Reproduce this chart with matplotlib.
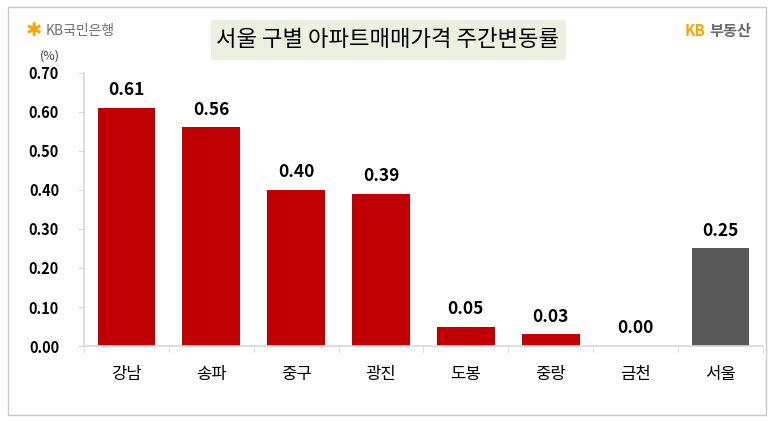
import matplotlib
matplotlib.use("Agg")
import matplotlib.pyplot as plt
from matplotlib.patches import Rectangle

plt.rcParams['font.family'] = ['Noto Sans CJK KR', 'DejaVu Sans']

districts = ['강남', '송파', '중구', '광진', '도봉', '중랑', '금천', '서울']
changes = [0.61, 0.56, 0.40, 0.39, 0.05, 0.03, 0.00, 0.25]
yticks = [0.0, 0.1, 0.2, 0.3, 0.4, 0.5, 0.6, 0.7]

colors = ['#C00000'] * (len(districts) - 1) + ['#595959']

fig = plt.figure(figsize=(7.73, 4.21), dpi=100)
ax = fig.add_axes([0.1087, 0.178, 0.8783, 0.649])

x = range(len(districts))
ax.bar(x, changes, width=0.68, color=colors)
for i, v in enumerate(changes):
    ax.text(i, v + 0.022, f'{v:.2f}', ha='center', va='bottom',
            fontsize=12.5, fontweight='bold', color='#000000')

ax.set_xlim(-0.5, len(districts) - 0.5)
ax.set_ylim(0, 0.7)
ax.set_yticks(yticks)
ax.set_yticklabels([f'{t:.2f}' for t in yticks], fontsize=10.5, fontweight='bold')
ax.set_xticks(list(x))
ax.set_xticklabels(districts, fontsize=12)
ax.set_xticks([i + 0.5 for i in range(-1, len(districts))], minor=True)
ax.tick_params(axis='x', which='major', length=0, pad=14)
ax.tick_params(axis='x', which='minor', length=5, color='#D9D9D9', direction='out')
ax.tick_params(axis='y', length=4, color='#D9D9D9', pad=14)
for s in ['top', 'right']:
    ax.spines[s].set_visible(False)
for s in ['left', 'bottom']:
    ax.spines[s].set_color('#D9D9D9')
    ax.spines[s].set_linewidth(1.2)

fig.text(50 / 773, 1 - 56 / 421, '(%)', ha='center', va='center',
         fontsize=9, color='#404040')

# outer frame
fig.patches.append(Rectangle((8 / 773, 6 / 421), 758 / 773, 408 / 421,
                             transform=fig.transFigure, fill=False,
                             edgecolor='#C8C8C8', linewidth=1))

# title box
fig.patches.append(Rectangle((211 / 773, 1 - 60 / 421), 355 / 773, 40 / 421,
                             transform=fig.transFigure, facecolor='#EBF0E0',
                             edgecolor='none'))
fig.text(388 / 773, 1 - 40 / 421, '서울 구별 아파트매매가격 주간변동률',
         ha='center', va='center', fontsize=16, color='#000000')

# logos
fig.text(26 / 773, 1 - 31 / 421, '✱', ha='left', va='center',
         fontsize=14, color='#F5A800', family=['DejaVu Sans'])
fig.text(46 / 773, 1 - 31 / 421, 'KB국민은행', ha='left', va='center',
         fontsize=10, color='#707070')
fig.text(685 / 773, 1 - 31 / 421, 'KB', ha='left', va='center',
         fontsize=11, fontweight='bold', color='#F5A800')
fig.text(709 / 773, 1 - 31 / 421, '부동산', ha='left', va='center',
         fontsize=11, fontweight='bold', color='#6A6A6A')

fig.savefig('out.png', dpi=100)
